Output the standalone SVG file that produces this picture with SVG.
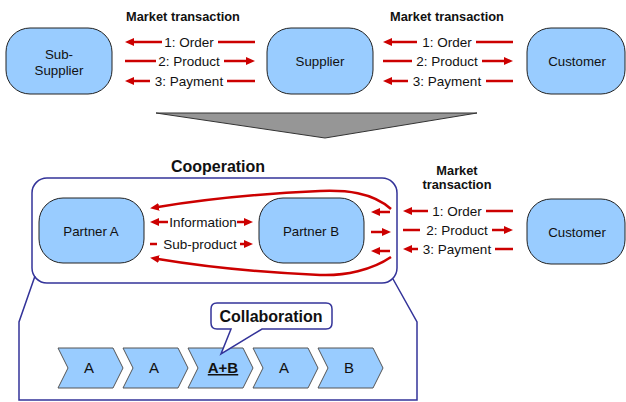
<svg xmlns="http://www.w3.org/2000/svg" width="626" height="402" viewBox="0 0 626 402">
<style>
.node{fill:#99ccff;stroke:#222;stroke-width:1}
.chev{fill:#99ccff;stroke:#555;stroke-width:1}
.ntext{font-family:"Liberation Sans",Arial,sans-serif;font-size:13.3px;fill:#111;text-anchor:middle}
.lbl{font-family:"Liberation Sans",Arial,sans-serif;font-size:13.5px;fill:#111;text-anchor:middle}
.title{font-family:"Liberation Sans",Arial,sans-serif;font-size:12.8px;font-weight:bold;fill:#111;text-anchor:middle}
.big{font-family:"Liberation Sans",Arial,sans-serif;font-size:16px;font-weight:bold;fill:#111;text-anchor:middle}
.ctext{font-family:"Liberation Sans",Arial,sans-serif;font-size:15px;fill:#111;text-anchor:middle}
.frame{fill:none;stroke:#333399;stroke-width:1.5}
.red{fill:none;stroke:#cc0000;stroke-width:2.5}
.arr{marker-end:url(#ah)}
</style>
<defs>
<marker id="ah" markerUnits="userSpaceOnUse" markerWidth="12" markerHeight="12" viewBox="0 -6 12 12" refX="1" refY="0" orient="auto">
<path d="M0,-4 L9,0 L0,4 Z" fill="#cc0000"/>
</marker>
</defs>

<g id="titles">
<text class="title" x="183" y="21">Market transaction</text>
<text class="title" x="447" y="21">Market transaction</text>
<text class="big" x="218" y="172">Cooperation</text>
<text class="title" x="457" y="175">Market</text>
<text class="title" x="457" y="189">transaction</text>
</g>

<g id="transform-arrow">
<polygon points="156,113 477,113 325,138" fill="#969696" stroke="#333" stroke-width="1"/>
</g>

<g id="cooperation-frame">
<rect class="frame" x="32" y="178" width="365" height="105" rx="15"/>
<polyline class="frame" points="35,276 19,322 19,400 417,400 417,322 393,279"/>
</g>

<g id="sub-supplier">
<rect class="node" x="6" y="28" width="106" height="66" rx="24"/>
<text class="ntext" x="59" y="59">Sub-</text>
<text class="ntext" x="59" y="75">Supplier</text>
</g>
<g id="supplier">
<rect class="node" x="267" y="28" width="106" height="66" rx="24"/>
<text class="ntext" x="320" y="66">Supplier</text>
</g>
<g id="customer-top">
<rect class="node" x="527" y="28" width="98" height="66" rx="24"/>
<text class="ntext" x="577" y="66">Customer</text>
</g>
<g id="partner-a">
<rect class="node" x="39" y="198" width="105" height="65" rx="24"/>
<text class="ntext" x="91" y="236">Partner A</text>
</g>
<g id="partner-b">
<rect class="node" x="259" y="198" width="105" height="65" rx="24"/>
<text class="ntext" x="311" y="236">Partner B</text>
</g>
<g id="customer-bottom">
<rect class="node" x="527" y="199" width="98" height="65" rx="24"/>
<text class="ntext" x="577" y="237">Customer</text>
</g>

<g id="connectors">
<path class="red arr" d="M162,42 H133"/><path class="red" d="M218,42 H255"/>
<path class="red" d="M125,61 H156"/><path class="red arr" d="M224,61 H247"/>
<path class="red arr" d="M150,81 H133"/><path class="red" d="M227,81 H255"/>

<path class="red arr" d="M417,42 H391"/><path class="red" d="M476,42 H513"/>
<path class="red" d="M383,61 H412"/><path class="red arr" d="M482,61 H505"/>
<path class="red arr" d="M408,81 H391"/><path class="red" d="M486,81 H513"/>

<path class="red arr" d="M428,211 H411"/><path class="red" d="M486,211 H513"/>
<path class="red" d="M403,230 H420"/><path class="red arr" d="M492,230 H505"/>
<path class="red arr" d="M418,249 H411"/><path class="red" d="M495,249 H513"/>

<path class="red arr" d="M168,222 H158"/><path class="red arr" d="M237,222 H245"/>
<path class="red" d="M150,244 H157"/><path class="red arr" d="M240,244 H245"/>

<path class="red arr" d="M390,212 H379"/>
<path class="red arr" d="M371,232 H383"/>
<path class="red arr" d="M390,251 H379"/>

<path class="red arr" d="M391,209 C372,192 345,190 320,191 Q230,195 158,207"/>
<path class="red arr" d="M391,257 C372,270 345,276 320,275 Q230,271 158,259"/>
</g>

<g id="connector-labels">
<text class="lbl" x="189" y="47">1: Order</text>
<text class="lbl" x="189" y="66">2: Product</text>
<text class="lbl" x="189" y="86">3: Payment</text>
<text class="lbl" x="447" y="47">1: Order</text>
<text class="lbl" x="447" y="66">2: Product</text>
<text class="lbl" x="447" y="86">3: Payment</text>
<text class="lbl" x="457" y="216">1: Order</text>
<text class="lbl" x="457" y="235">2: Product</text>
<text class="lbl" x="457" y="254">3: Payment</text>
<text class="lbl" x="203" y="227">Information</text>
<text class="lbl" x="200" y="249">Sub-product</text>
</g>

<g id="chain">
<g id="step1"><polygon class="chev" points="58,348 113,348 123,368 113,388 58,388 68,368"/><text class="ctext" x="89" y="373">A</text></g>
<g id="step2"><polygon class="chev" points="123,348 178,348 188,368 178,388 123,388 133,368"/><text class="ctext" x="154" y="373">A</text></g>
<g id="step3"><polygon class="chev" points="188,348 243,348 253,368 243,388 188,388 198,368"/><text class="ctext" x="223" y="373" font-weight="bold" text-decoration="underline">A+B</text></g>
<g id="step4"><polygon class="chev" points="253,348 308,348 318,368 308,388 253,388 263,368"/><text class="ctext" x="284" y="373">A</text></g>
<g id="step5"><polygon class="chev" points="318,348 373,348 383,368 373,388 318,388 328,368"/><text class="ctext" x="349" y="373">B</text></g>
</g>

<g id="collaboration-callout">
<path d="M217,303 H326 Q332,303 332,309 V323 Q332,329 326,329 H262 L221,354 L231,329 H217 Q211,329 211,323 V309 Q211,303 217,303 Z" fill="#fff" stroke="#333399" stroke-width="1.5"/>
<text class="big" x="271" y="322">Collaboration</text>
</g>
</svg>
